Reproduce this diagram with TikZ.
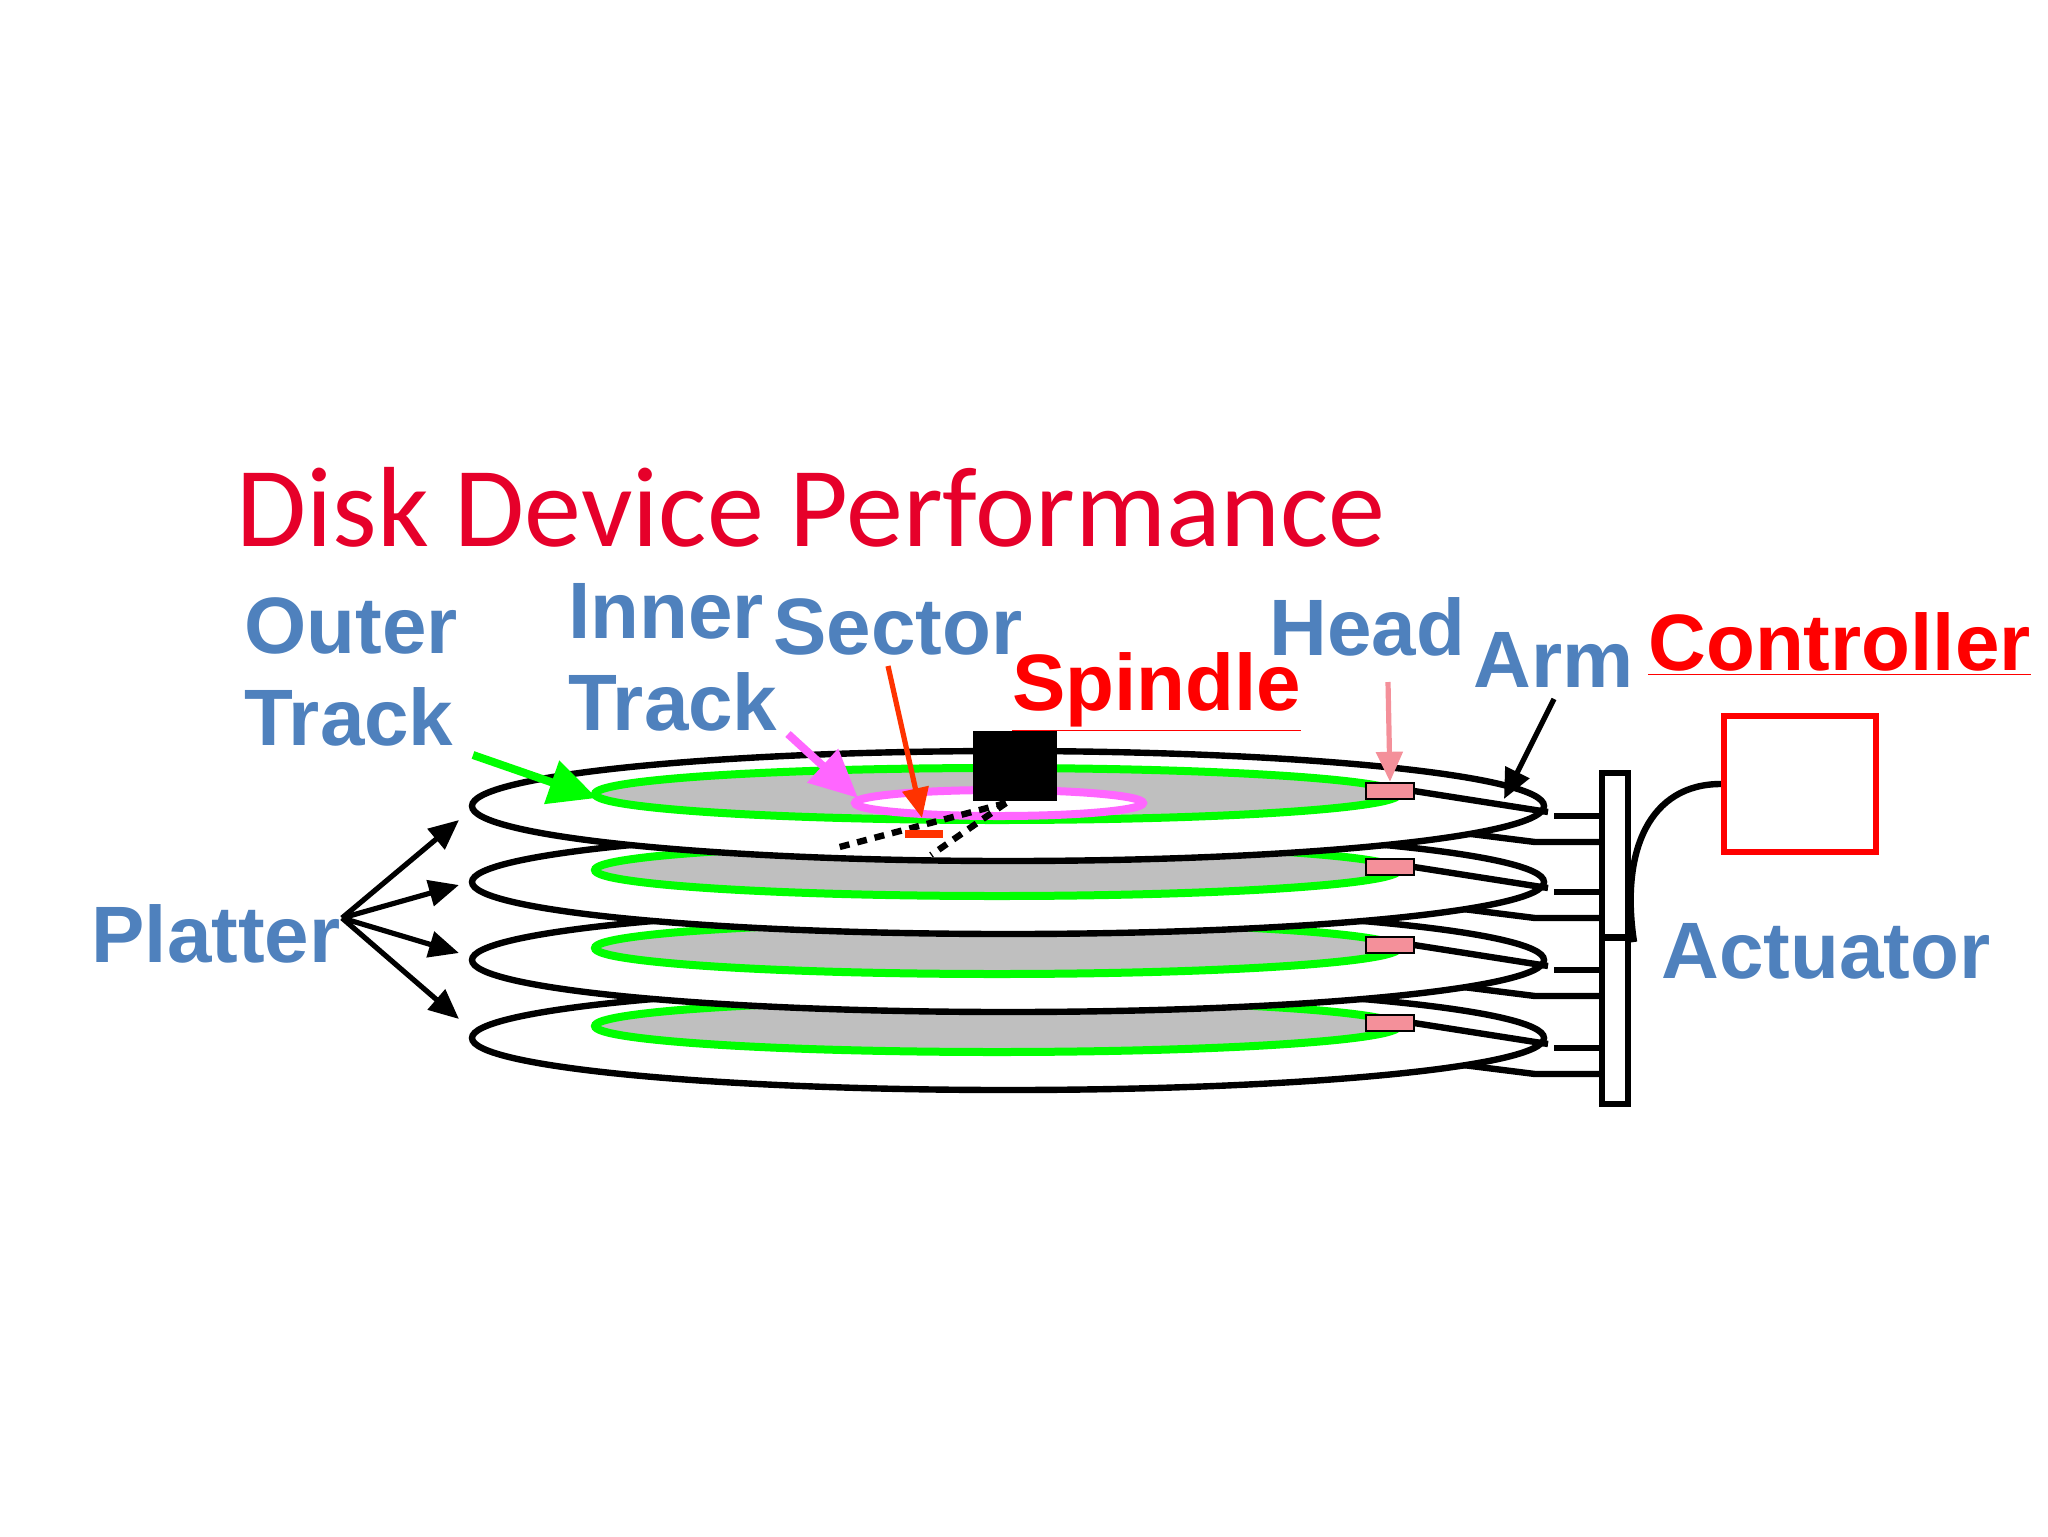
\documentclass[tikz,border=0pt]{standalone}
\usepackage{fontspec}
\setmainfont{Liberation Sans}
\newfontfamily\titlefont{Carlito}
\usetikzlibrary{arrows.meta}
\definecolor{lblue}{HTML}{4F81BD}
\definecolor{tred}{HTML}{E6002A}
\definecolor{hpink}{HTML}{F4909A}
\definecolor{mag}{HTML}{FF66FF}
\definecolor{sred}{HTML}{FF3300}
\begin{document}
\begin{tikzpicture}[x=0.5pt,y=-0.5pt,
  lbl/.style={font=\fontsize{40}{46}\selectfont\bfseries, text=lblue, inner sep=0pt, anchor=west, align=left},
  rlbl/.style={font=\fontsize{40}{46}\selectfont\bfseries, text=red, inner sep=0pt, anchor=west},
  plat/.style={draw=black, line width=3.2pt, fill=white},
  trk/.style={draw=green, line width=4pt, fill=black!25},
  head/.style={draw=black, line width=1.2pt, fill=hpink},
  arm/.style={line width=3.2pt},
  arr/.style={line width=2.6pt, -{Triangle[length=15pt,width=13pt]}}]
\useasboundingbox (0,0) rectangle (2048,1536);
% platters from bottom to top
\foreach \cy/\ry/\k in {1038/52/4, 960/52/3, 882/52/2, 806/55/1} {
  \draw[arm] (1463,\cy+27) -- (1535,\cy+36) -- (1600,\cy+36);
  \draw[plat] (1008,\cy) ellipse [x radius=536, y radius=\ry];
  \draw[trk] (997,\cy-12) ellipse [x radius=402, y radius=26];
  \draw[arm] (1414,\cy-15) -- (1548,\cy+6);
  \draw[arm] (1554,\cy+10) -- (1600,\cy+10);
  \node[head, minimum width=24pt, minimum height=8pt, inner sep=0pt] (h\k) at (1390,\cy-15) {};
}
% inner track
\draw[draw=mag, line width=4pt, fill=white] (999,803) ellipse [x radius=144, y radius=13];
% spindle
\node[fill=black, minimum width=42pt, minimum height=35pt, inner sep=0pt] (spin) at (1015,766) {};
% sector lines
\coordinate (sc) at (1006,803);
\coordinate (s1) at (832,849);
\coordinate (s2) at (931,855);
\draw[line width=3.2pt, dash pattern=on 5pt off 4pt] (sc) -- (s1);
\draw[line width=3.2pt, dash pattern=on 5pt off 4pt] (sc) -- (s2);
\coordinate (secA) at (905,834); \coordinate (secB) at (943,834);
\draw[sred, line width=4pt] (secA) -- (secB);
% actuator
\node[draw, line width=3.2pt, fill=white, minimum width=13pt, minimum height=82pt, inner sep=0pt] (act1) at (1615,855) {};
\node[draw, line width=3.2pt, fill=white, minimum width=13pt, minimum height=83pt, inner sep=0pt] (act2) at (1615,1021) {};
% controller
\node[draw=red, line width=3.2pt, minimum width=76pt, minimum height=68pt, inner sep=0pt] (ctrl) at (1800,784) {};
\draw[line width=3.2pt] (ctrl.west) .. controls (1650,784) and (1620,850) .. (1634,942);
% title
\node[font=\titlefont\fontsize{57}{60}\selectfont, text=tred, inner sep=0pt, anchor=west] (title) at (236,507) {Disk Device Performance};
% labels
\node[lbl] (outer) at (244,672) {Outer\\Track};
\node[lbl] (inner) at (568,657) {Inner\\Track};
\node[lbl] (sector) at (773,627) {Sector};
\node[lbl] (headl) at (1269,627) {Head};
\node[lbl] (arml) at (1473,660) {Arm};
\node[rlbl] (ctrll) at (1648,644) {\underline{Controller}};
\node[rlbl] (spindle) at (1012,692) {\underline{Spindle}};
\node[lbl] (platter) at (91,934) {Platter};
\node[lbl] (actl) at (1661,951) {Actuator};
% arrows
\coordinate (oA) at (473,755); \coordinate (oB) at (597,798);
\draw[green, line width=4pt, -{Triangle[length=24pt,width=22pt]}] (oA) -- (oB);
\coordinate (iA) at (788,734); \coordinate (iB) at (858,798);
\draw[mag, line width=4pt, -{Triangle[length=24pt,width=22pt]}] (iA) -- (iB);
\coordinate (sA) at (888,666); \coordinate (sB) at (922,818);
\draw[sred, arr] (sA) -- (sB);
\coordinate (hA) at (1388,682);
\draw[hpink, arr] (hA) -- (h1.north);
\coordinate (aA) at (1554,699); \coordinate (aB) at (1504,799);
\draw[arr] (aA) -- (aB);
\coordinate (p0) at (342,918);
\foreach \ty in {820,885,953,1019} \draw[arr] (p0) -- (459,\ty);
\end{tikzpicture}
\end{document}
